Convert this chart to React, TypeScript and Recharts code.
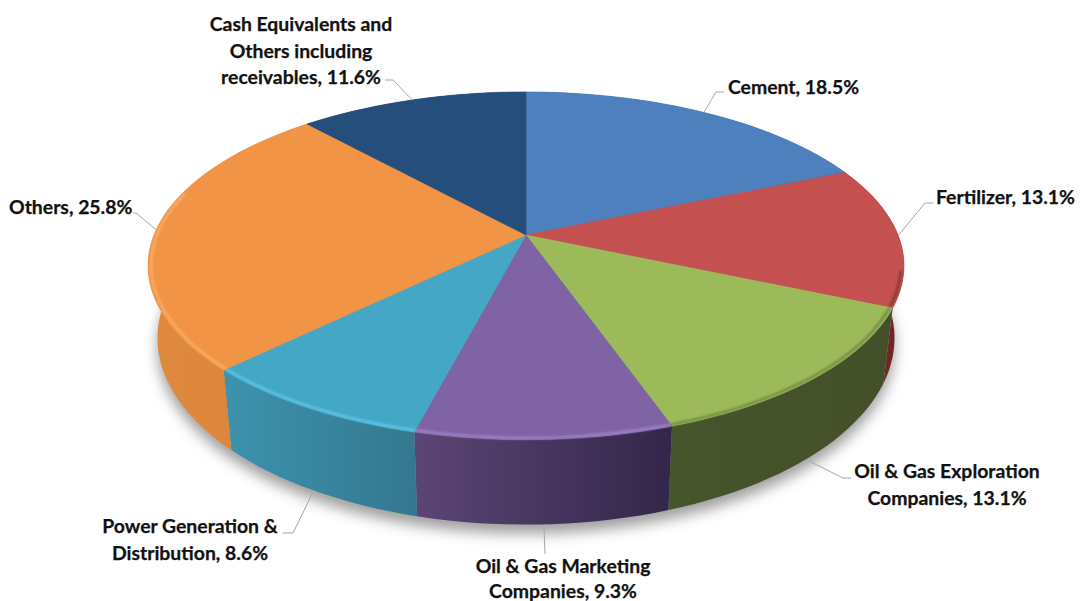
import { Pie, PieChart } from "recharts";

const sectors = ["Cement", "Fertilizer", "Oil & Gas Exploration Companies", "Oil & Gas Marketing Companies", "Power Generation & Distribution", "Others", "Cash Equivalents and Others including receivables"];
const shares = [18.5, 13.1, 13.1, 9.3, 8.6, 25.8, 11.6];

const labelLines = [
    ["Cement, 18.5%"],
    ["Fertilizer, 13.1%"],
    ["Oil & Gas Exploration", "Companies, 13.1%"],
    ["Oil & Gas Marketing", "Companies, 9.3%"],
    ["Power Generation &", "Distribution, 8.6%"],
    ["Others, 25.8%"],
    ["Cash Equivalents and", "Others including", "receivables, 11.6%"],
];

const pieData = sectors.map((name, i) => ({ name, value: shares[i] }));

// styling per slice: top face, rim bevel, side wall left/right
const topColors = ["#4d80bc", "#c4504f", "#9dba5b", "#8063a4", "#44a7c5", "#f19446", "#254e7c"];
const rimColors = ["#4d80bc", "#7e3533", "#6d8a3c", "#a184c8", "#62c6e8", "#fbae68", "#254e7c"];
const wallLeft = ["#2e5078", "#8a2c2a", "#46552b", "#5c4575", "#3d93ad", "#e08a3e", "#1b3a5c"];
const wallRight = ["#2e5078", "#6c2422", "#434f28", "#33264a", "#33788f", "#d9823a", "#1b3a5c"];

// label placement: elbow of the leader, its end, text anchor point
const leaderElbows = [[716, 92], [925, 203], [843, 478], [545, 554], [293, 533], [136, 213], [393, 80]];
const leaderEnds = [[724, 92], [933, 203], [851, 478], [545, 554], [283, 533], [133, 213], [385, 80]];
const labelAnchors: { x: number; y: number; anchor: "start" | "middle" | "end" }[] = [
    { x: 728, y: 94, anchor: "start" },
    { x: 936, y: 204, anchor: "start" },
    { x: 947, y: 478, anchor: "middle" },
    { x: 563, y: 573, anchor: "middle" },
    { x: 190, y: 533, anchor: "middle" },
    { x: 9, y: 214, anchor: "start" },
    { x: 301, y: 31, anchor: "middle" },
];

const DEPTH = 0.177; // perspective of the tilted disc
const SQUASH = 0.4527;
const WALL = 0.188;
const BOTTOM_SHRINK = 0.975;
const BEVEL_FROM = -12; // bevel only shows on the front of the rim
const BEVEL_TO = -195;

// angle in recharts degrees -> screen point on the rim
function rimPoint(cx: number, cy: number, r: number, angle: number, bottom = false) {
    const a = (angle * Math.PI) / 180;
    const x = Math.cos(a);
    const y = Math.sin(a);
    const w = 1 + DEPTH * y;
    const px = (r * x) / w;
    const py = (-r * SQUASH * y) / w;
    if (!bottom) return { x: cx + px, y: cy + py };
    return { x: cx + px * BOTTOM_SHRINK, y: cy + py + (r * WALL) / w };
}

function arcPoints(p: any, start: number, end: number, bottom = false, inset = 0) {
    const steps = Math.max(2, Math.ceil(Math.abs(end - start) / 2));
    const pts = [];
    for (let i = 0; i <= steps; i++) {
        const q = rimPoint(p.cx, p.cy, p.outerRadius - inset, start + ((end - start) * i) / steps, bottom);
        pts.push(`${q.x.toFixed(1)},${q.y.toFixed(1)}`);
    }
    return pts;
}

function WallShape(props: any) {
    const idx = props.index ?? 0;
    const top = arcPoints(props, props.startAngle, props.endAngle);
    const bot = arcPoints(props, props.endAngle, props.startAngle, true);
    return (
        <g>
            {/* soft shadow of the whole disc, only once, under the first wall */}
            {idx === 0 && (
                <path d={`M${arcPoints(props, 90, -270, true).join("L")}Z`} fill="#000" fillOpacity={0.38} filter="url(#pieShadow)" transform="translate(0,9)" />
            )}
            <path d={`M${top.join("L")}L${bot.join("L")}Z`} fill={`url(#wall${idx})`} />
        </g>
    );
}

function TopShape(props: any) {
    const idx = props.index ?? 0;
    const rim = arcPoints(props, props.startAngle, props.endAngle);
    const bevelStart = Math.min(props.startAngle, BEVEL_FROM);
    const bevelEnd = Math.max(props.endAngle, BEVEL_TO);
    const showBevel = bevelStart > bevelEnd;
    return (
        <g>
            <path d={`M${props.cx},${props.cy}L${rim.join("L")}Z`} fill={topColors[idx]} stroke={topColors[idx]} strokeWidth={0.6} />
            {showBevel && (
                <path d={`M${arcPoints(props, bevelStart, bevelEnd, false, 3).join("L")}`} fill="none" stroke={rimColors[idx]} strokeWidth={2.4} filter="url(#bevelBlur)" />
            )}
        </g>
    );
}

function SliceLabel(props: any) {
    const idx = props.index;
    const mid = (props.startAngle + props.endAngle) / 2;
    const front = Math.sin((mid * Math.PI) / 180) < -0.1;
    const start = rimPoint(props.cx, props.cy, props.outerRadius, mid, front);
    const elbow = leaderElbows[idx];
    const end = leaderEnds[idx];
    const anchor = labelAnchors[idx];
    return (
        <g>
            <polyline points={`${start.x},${start.y + (front ? 3 : 0)} ${elbow[0]},${elbow[1]} ${end[0]},${end[1]}`} fill="none" stroke="#a6a6a6" strokeWidth={1} />
            <text x={anchor.x} y={anchor.y} textAnchor={anchor.anchor} fill="#111" stroke="#111" strokeWidth={0.25} style={{ fontFamily: "Lato", fontWeight: 700, fontSize: 19.4 }}>
                {labelLines[idx].map((line, k) => (
                    <tspan key={k} x={anchor.x} dy={k === 0 ? 0 : idx === 3 ? 24.5 : 26.5}>{line}</tspan>
                ))}
            </text>
        </g>
    );
}

export default function App() {
    const pieProps = {
        data: pieData,
        dataKey: "value",
        nameKey: "name",
        cx: 526,
        cy: 235,
        outerRadius: 372,
        startAngle: 90,
        endAngle: -270,
        stroke: "none",
        isAnimationActive: false,
    };

    return (
        <div style={{ position: "absolute", left: 0, top: 0, width: 1081, height: 601, background: "#fff" }}>
            <PieChart width={1081} height={601} margin={{ top: 0, right: 0, bottom: 0, left: 0 }}>
                <defs>
                    <filter id="pieShadow" filterUnits="userSpaceOnUse" x="0" y="0" width="1081" height="601">
                        <feGaussianBlur stdDeviation="7" />
                    </filter>
                    <filter id="bevelBlur" filterUnits="userSpaceOnUse" x="0" y="0" width="1081" height="601">
                        <feGaussianBlur stdDeviation="1.2" />
                    </filter>
                    {wallLeft.map((c, i) => (
                        <linearGradient key={i} id={`wall${i}`} x1="0" y1="0" x2="1" y2="0">
                            <stop offset="0%" stopColor={c} />
                            <stop offset="100%" stopColor={wallRight[i]} />
                        </linearGradient>
                    ))}
                </defs>
                <Pie {...pieProps} shape={WallShape} label={false} />
                <Pie {...pieProps} shape={TopShape} label={SliceLabel} labelLine={false} />
            </PieChart>
        </div>
    );
}
